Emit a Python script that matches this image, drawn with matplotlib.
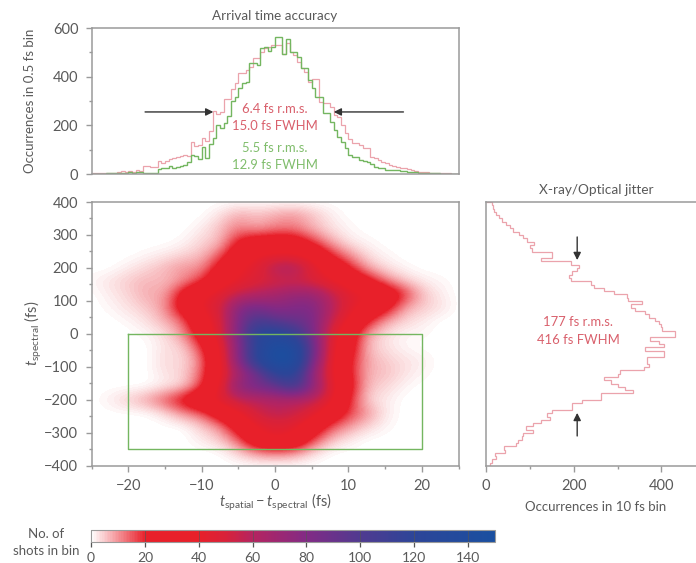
import numpy as np
import matplotlib
matplotlib.use('Agg')
import matplotlib.pyplot as plt
from matplotlib.colors import LinearSegmentedColormap
from matplotlib.ticker import MultipleLocator

plt.rcParams['font.family'] = ['Lato', 'DejaVu Sans']
plt.rcParams['mathtext.fontset'] = 'custom'
plt.rcParams['mathtext.rm'] = 'Lato'
plt.rcParams['mathtext.it'] = 'Lato:italic'

GREY = '#5a5a5a'
SPINE = '#9a9a9a'
PINK = '#eba3ac'
GREEN = '#74b660'
RED_TXT = '#d9606c'
GREEN_TXT = '#80bd6c'

# arrival time histogram, 0.5 fs bins from -25 to 25 fs
arrival_red = [3, 3, 4, 4, 5, 4, 6, 8, 12, 8, 12, 10, 16, 14, 33, 33, 28, 30, 55, 46,
               52, 60, 64, 68, 72, 78, 72, 130, 115, 118, 150, 135, 175, 260, 245, 255, 310, 310, 350, 375,
               415, 414, 427, 440, 475, 475, 500, 518, 520, 530, 530, 530, 495, 537, 500, 489, 460, 434, 420, 380,
               389, 389, 297, 290, 290, 277, 243, 235, 201, 167, 145, 126, 126, 120, 105, 105, 71, 65, 57, 50,
               44, 38, 34, 30, 26, 26, 20, 16, 13, 10, 10, 8, 5, 5, 5, 4, 6, 3, 2, 2]
arrival_green = [2, 2, 2, 2, 3, 3, 3, 3, 5, 4, 8, 6, 10, 8, 6, 5, 5, 5, 22, 25,
                 25, 32, 24, 30, 34, 35, 50, 78, 72, 60, 110, 65, 125, 150, 200, 190, 210, 240, 300, 317,
                 352, 375, 380, 455, 455, 450, 516, 520, 505, 520, 564, 564, 495, 553, 500, 500, 480, 434, 434, 386,
                 352, 318, 318, 250, 250, 215, 180, 153, 133, 105, 78, 71, 71, 57, 52, 50, 40, 30, 26, 23,
                 18, 16, 16, 15, 14, 14, 10, 8, 8, 6, 5, 5, 4, 3, 3, 2, 2, 2, 1, 1]
arrival_edges = np.arange(-25, 25.5, 0.5)

# jitter histogram, 10 fs bins, listed from +400 fs down to -400 fs
jitter = [14, 15, 18, 22, 30, 37, 45, 55, 62, 75, 85, 94, 109, 100, 105, 151, 151, 126, 193, 213,
          208, 197, 190, 195, 239, 246, 270, 292, 321, 325, 355, 330, 340, 362, 372, 385, 395, 400, 402, 430,
          430, 375, 395, 405, 362, 405, 405, 368, 368, 372, 360, 305, 300, 270, 285, 300, 318, 336, 262, 262,
          218, 197, 197, 150, 140, 146, 125, 108, 92, 108, 85, 82, 72, 68, 42, 44, 20, 22, 14, 8]
jitter_edges = np.arange(400, -410, -10)

# shots per bin, rows from +400 to -400 fs (step 40), columns -25 to 25 fs (step 2.5)
shots_x = np.arange(-25, 27.5, 2.5)
shots_y = np.arange(400, -440, -40)
shots = np.array([
    [0, 0, 0, 0, 0, 0, 0, 0, 0, 0, 0, 0, 0, 0, 0, 0, 0, 0, 0, 0, 0],
    [0, 0, 0, 0, 0, 0, 0, 3, 8, 6, 8, 10, 6, 2, 0, 0, 0, 0, 0, 0, 0],
    [0, 0, 0, 0, 0, 0, 2, 6, 12, 8, 12, 12, 7, 3, 1, 0, 0, 0, 0, 0, 0],
    [0, 0, 0, 0, 0, 1, 4, 6, 22, 28, 28, 28, 18, 8, 2, 1, 0, 0, 0, 0, 0],
    [0, 0, 0, 1, 2, 4, 6, 14, 32, 40, 42, 42, 36, 20, 10, 3, 1, 0, 0, 0, 0],
    [0, 0, 2, 4, 7, 10, 10, 26, 40, 45, 62, 64, 48, 34, 22, 8, 3, 1, 0, 0, 0],
    [1, 3, 5, 7, 6, 10, 18, 35, 42, 48, 50, 52, 48, 42, 35, 26, 12, 5, 2, 1, 0],
    [0, 2, 4, 8, 8, 26, 40, 46, 56, 60, 66, 72, 72, 58, 45, 42, 35, 20, 6, 2, 0],
    [0, 1, 3, 5, 10, 28, 42, 50, 80, 85, 76, 80, 82, 62, 45, 36, 26, 8, 5, 3, 0],
    [0, 0, 1, 3, 7, 14, 35, 48, 82, 105, 95, 90, 85, 55, 40, 22, 8, 4, 2, 0, 0],
    [0, 0, 0, 1, 3, 10, 28, 48, 82, 125, 130, 115, 85, 48, 30, 8, 3, 1, 1, 0, 0],
    [0, 0, 0, 0, 3, 4, 18, 42, 78, 122, 145, 142, 92, 45, 28, 6, 3, 1, 0, 0, 0],
    [0, 0, 0, 0, 4, 3, 12, 40, 78, 125, 150, 148, 85, 45, 22, 8, 5, 3, 2, 0, 0],
    [0, 0, 0, 0, 3, 4, 14, 40, 65, 85, 120, 125, 72, 44, 22, 7, 6, 3, 1, 0, 0],
    [0, 0, 0, 0, 2, 4, 18, 44, 78, 85, 90, 110, 78, 48, 25, 6, 4, 1, 0, 0, 0],
    [0, 2, 5, 9, 16, 26, 38, 46, 55, 58, 62, 60, 58, 45, 20, 4, 2, 0, 0, 0, 0],
    [0, 0, 0, 0, 3, 10, 14, 30, 40, 52, 58, 55, 46, 32, 18, 10, 2, 0, 0, 0, 0],
    [0, 0, 0, 0, 0, 0, 5, 10, 28, 42, 46, 44, 32, 16, 9, 4, 1, 0, 0, 0, 0],
    [0, 0, 0, 0, 0, 0, 2, 5, 14, 35, 42, 38, 18, 6, 2, 0, 0, 0, 0, 0, 0],
    [0, 0, 0, 0, 0, 0, 0, 0, 4, 9, 11, 9, 3, 0, 0, 0, 0, 0, 0, 0, 0],
    [0, 0, 0, 0, 0, 0, 0, 0, 0, 0, 0, 0, 0, 0, 0, 0, 0, 0, 0, 0, 0],
])

cmap_pos = [0, 20 / 150, 40 / 150, 50 / 150, 60 / 150, 80 / 150, 100 / 150, 120 / 150, 1]
cmap_col = ['#ffffff', '#e8202a', '#e8202a', '#d8223a', '#b52460', '#822a85', '#503a90', '#2d4598', '#1a4fa0']
shots_cmap = LinearSegmentedColormap.from_list('shots', list(zip(cmap_pos, cmap_col)))
bar_ticks = np.arange(0, 160, 20)

W, H = 696, 563


def px_axes(fig, left, top, right, bottom):
    """ Axes from pixel edges, measured from the top left """
    return fig.add_axes([left / W, 1 - bottom / H, (right - left) / W, (bottom - top) / H])


def style(ax):
    for s in ax.spines.values():
        s.set_color(SPINE)
        s.set_linewidth(1.1)
    ax.tick_params(which='both', colors=SPINE, labelcolor=GREY, labelsize=10.5, width=1, pad=5.5)
    ax.tick_params(which='major', length=4)
    ax.tick_params(which='minor', length=2.4)


def arrow(ax, start, end):
    ax.annotate('', xy=end, xytext=start,
                arrowprops=dict(arrowstyle='-|>', color='#333333', lw=1, mutation_scale=11, shrinkA=0, shrinkB=0))


fig = plt.figure(figsize=(W / 100, H / 100), dpi=100)

# top histogram
ax_top = px_axes(fig, 91.5, 28, 458.5, 174)
ax_top.stairs(arrival_red, arrival_edges, color=PINK, lw=0.9)
ax_top.stairs(arrival_green, arrival_edges, color=GREEN, lw=1.0)
ax_top.set_xlim(-25, 25)
ax_top.set_ylim(0, 600)
ax_top.set_xticks([])
ax_top.yaxis.set_major_locator(MultipleLocator(200))
ax_top.yaxis.set_minor_locator(MultipleLocator(100))
style(ax_top)
ax_top.set_ylabel('Occurrences in 0.5 fs bin', color=GREY, fontsize=9.5, va='center')
ax_top.yaxis.set_label_coords((30 - 91.5) / 367, 0.5)
ax_top.set_title('Arrival time accuracy', color=GREY, fontsize=9.7, pad=6)
arrow(ax_top, (-17.7, 255), (-8.4, 255))
arrow(ax_top, (17.5, 255), (8.0, 255))
ax_top.text(0, 267, '6.4 fs r.m.s.', color=RED_TXT, fontsize=9.4, ha='center', va='center')
ax_top.text(0, 197, '15.0 fs FWHM', color=RED_TXT, fontsize=9.4, ha='center', va='center')
ax_top.text(0, 107, '5.5 fs r.m.s.', color=GREEN_TXT, fontsize=9.4, ha='center', va='center')
ax_top.text(0, 37, '12.9 fs FWHM', color=GREEN_TXT, fontsize=9.4, ha='center', va='center')

# main map
ax_map = px_axes(fig, 91.5, 202, 458.5, 465.5)
im = ax_map.imshow(shots, cmap=shots_cmap, vmin=0, vmax=150, interpolation='bicubic', aspect='auto',
                   extent=[shots_x[0] - 1.25, shots_x[-1] + 1.25, shots_y[-1] - 20, shots_y[0] + 20])
ax_map.plot([-20, 20, 20, -20, -20], [0, 0, -350, -350, 0], color=GREEN, lw=1)
ax_map.set_xlim(-25, 25)
ax_map.set_ylim(-400, 400)
ax_map.xaxis.set_major_locator(MultipleLocator(10))
ax_map.xaxis.set_minor_locator(MultipleLocator(5))
ax_map.yaxis.set_major_locator(MultipleLocator(100))
ax_map.yaxis.set_minor_locator(MultipleLocator(50))
style(ax_map)
ax_map.set_xlabel(r'$t_{\mathrm{spatial}} - t_{\mathrm{spectral}}$ (fs)', color=GREY, fontsize=10.5, va='center')
ax_map.xaxis.set_label_coords(0.5, -(502 - 465.5) / 263.5)
ax_map.set_ylabel(r'$t_{\mathrm{spectral}}$ (fs)', color=GREY, fontsize=10.5, va='center')
ax_map.yaxis.set_label_coords((33 - 91.5) / 367, 0.5)

# jitter histogram, drawn sideways
ax_right = px_axes(fig, 486, 202, 696, 466)
ax_right.stairs(jitter[::-1], jitter_edges[::-1], orientation='horizontal', color=PINK, lw=0.9)
ax_right.set_xlim(0, 479)
ax_right.set_ylim(-400, 400)
ax_right.set_yticks([])
ax_right.xaxis.set_major_locator(MultipleLocator(200))
ax_right.xaxis.set_minor_locator(MultipleLocator(100))
style(ax_right)
ax_right.spines['right'].set_visible(False)
ax_right.set_xlabel('Occurrences in 10 fs bin', color=GREY, fontsize=9.5, va='center')
ax_right.xaxis.set_label_coords((596 - 486) / 210, -(507 - 466) / 264)
fig.text(596 / W, 1 - 190 / H, 'X-ray/Optical jitter', color=GREY, fontsize=9.8, ha='center', va='center')
arrow(ax_right, (208, 294), (208, 224))
arrow(ax_right, (208, -309), (208, -239))
ax_right.text(210, 35, '177 fs r.m.s.', color=RED_TXT, fontsize=9.4, ha='center', va='center')
ax_right.text(210, -17, '416 fs FWHM', color=RED_TXT, fontsize=9.4, ha='center', va='center')

# colour scale
ax_bar = px_axes(fig, 91, 530, 495, 542)
cb = fig.colorbar(im, cax=ax_bar, orientation='horizontal')
cb.set_ticks(bar_ticks)
cb.outline.set_edgecolor(SPINE)
cb.ax.tick_params(direction='out', length=3.5, width=0.9, color='#555555', labelcolor=GREY,
                  labelsize=10, pad=4)
for t in bar_ticks:
    cb.ax.axvline(t, color='#555555', lw=0.7, alpha=0.6)
fig.text(46 / W, 1 - 534 / H, 'No. of', color=GREY, fontsize=9.5, ha='center', va='center')
fig.text(46 / W, 1 - 551 / H, 'shots in bin', color=GREY, fontsize=9.5, ha='center', va='center')

fig.savefig('out.png', dpi=100)
